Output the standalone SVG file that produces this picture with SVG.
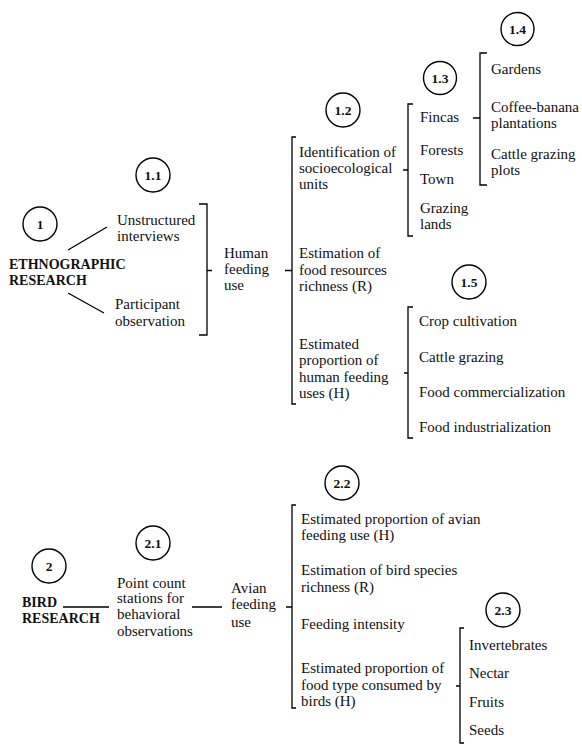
<svg xmlns="http://www.w3.org/2000/svg" width="582" height="750" viewBox="0 0 582 750">
<style>
text{font-family:"Liberation Serif","Times New Roman",serif;font-size:15px;fill:#111}
.b{font-weight:bold;font-size:14px}
.n{font-weight:bold;font-size:13.5px;text-anchor:middle}
.c{fill:#fff;stroke:#000;stroke-width:1.4}
.l{fill:none;stroke:#000;stroke-width:1.3}
</style>
<rect width="582" height="750" fill="#fff"/>
<g id="connectors">
<path class="l" d="M68 250L107 227M68 293L104 313"/>
<path class="l" d="M199 204H207V335H199M207 270.5H212"/>
<path class="l" d="M296 137H292V404H296M285 270.5H292"/>
<path class="l" d="M413 104H408V236H413M403 170H408"/>
<path class="l" d="M487 53H480V185H487M473 118H480"/>
<path class="l" d="M413 307H408V438H413M404 373H408"/>
<path class="l" d="M63 607H109M192 607H222"/>
<path class="l" d="M296 505H292V708H296M286 607H292"/>
<path class="l" d="M464 628H460V743H464M456 686H460"/>
</g>
<g id="n1"><circle class="c" cx="40" cy="224" r="17"/><text class="n" x="40" y="229">1</text>
<text class="b" x="9" y="269">ETHNOGRAPHIC</text><text class="b" x="9" y="285">RESEARCH</text></g>
<g id="n1-1"><circle class="c" cx="153" cy="175" r="17"/><text class="n" x="153" y="180">1.1</text>
<text x="117" y="225">Unstructured</text><text x="117" y="241">interviews</text>
<text x="115" y="309">Participant</text><text x="115" y="326">observation</text></g>
<g id="human"><text x="224" y="258">Human</text><text x="224" y="274">feeding</text><text x="224" y="290">use</text></g>
<g id="n1-2"><circle class="c" cx="343" cy="110" r="17"/><text class="n" x="343" y="115">1.2</text>
<text x="299" y="157">Identification of</text><text x="299" y="173">socioecological</text><text x="299" y="189">units</text>
<text x="299" y="258">Estimation of</text><text x="299" y="275">food resources</text><text x="299" y="291">richness (R)</text>
<text x="299" y="349">Estimated</text><text x="299" y="365">proportion of</text><text x="299" y="382">human feeding</text><text x="299" y="398">uses (H)</text></g>
<g id="n1-3"><circle class="c" cx="440" cy="78" r="16.5"/><text class="n" x="440" y="83">1.3</text>
<text x="420" y="122">Fincas</text><text x="420" y="155">Forests</text><text x="420" y="184">Town</text><text x="420" y="213">Grazing</text><text x="420" y="229">lands</text></g>
<g id="n1-4"><circle class="c" cx="517.5" cy="29" r="16.5"/><text class="n" x="517.5" y="34">1.4</text>
<text x="491" y="74">Gardens</text><text x="491" y="112">Coffee-banana</text><text x="491" y="128">plantations</text><text x="491" y="159">Cattle grazing</text><text x="491" y="175">plots</text></g>
<g id="n1-5"><circle class="c" cx="469" cy="282" r="17"/><text class="n" x="469" y="287">1.5</text>
<text x="419" y="326">Crop cultivation</text><text x="419" y="362">Cattle grazing</text><text x="419" y="397">Food commercialization</text><text x="419" y="432">Food industrialization</text></g>
<g id="n2"><circle class="c" cx="49" cy="566" r="17"/><text class="n" x="49" y="571">2</text>
<text class="b" x="22" y="607">BIRD</text><text class="b" x="22" y="623">RESEARCH</text></g>
<g id="n2-1"><circle class="c" cx="153" cy="543" r="17"/><text class="n" x="153" y="548">2.1</text>
<text x="117" y="588">Point count</text><text x="117" y="603">stations for</text><text x="117" y="619">behavioral</text><text x="117" y="636">observations</text></g>
<g id="avian"><text x="231" y="593">Avian</text><text x="231" y="609">feeding</text><text x="231" y="627">use</text></g>
<g id="n2-2"><circle class="c" cx="342" cy="483" r="17"/><text class="n" x="342" y="488">2.2</text>
<text x="301" y="524">Estimated proportion of avian</text><text x="301" y="540">feeding use (H)</text>
<text x="301" y="575">Estimation of bird species</text><text x="301" y="592">richness (R)</text>
<text x="301" y="629">Feeding intensity</text>
<text x="301" y="673">Estimated proportion of</text><text x="301" y="690">food type consumed by</text><text x="301" y="706">birds (H)</text></g>
<g id="n2-3"><circle class="c" cx="503" cy="610" r="17"/><text class="n" x="503" y="615">2.3</text>
<text x="469" y="650">Invertebrates</text><text x="469" y="678">Nectar</text><text x="469" y="707">Fruits</text><text x="469" y="735">Seeds</text></g>
</svg>
